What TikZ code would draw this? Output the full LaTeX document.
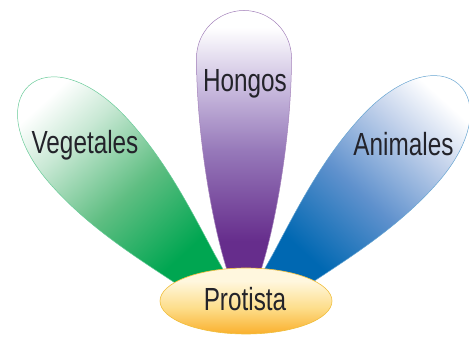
\documentclass[tikz,border=0pt]{standalone}
\usepackage{fontspec}
\setmainfont{Liberation Sans}
\definecolor{vgreen}{RGB}{0,166,81}
\definecolor{vgmid}{RGB}{95,190,130}
\definecolor{vglight}{RGB}{200,232,212}
\definecolor{hpurple}{RGB}{102,45,140}
\definecolor{hpmid}{RGB}{150,120,185}
\definecolor{hplight}{RGB}{205,192,225}
\definecolor{ablue}{RGB}{0,104,178}
\definecolor{abmid}{RGB}{95,145,205}
\definecolor{ablight}{RGB}{195,210,235}
\definecolor{porange}{RGB}{250,176,45}
\definecolor{pmid}{RGB}{253,222,140}
\definecolor{plight}{RGB}{255,247,222}
\definecolor{pedge}{RGB}{240,190,60}
\definecolor{txtgray}{RGB}{35,35,42}
\pgfdeclareverticalshading{hongosshade}{100bp}{color(0bp)=(hpurple); color(25bp)=(hpurple); color(34bp)=(hpurple); color(50bp)=(hpmid); color(62bp)=(hplight); color(72bp)=(white); color(100bp)=(white)}
\pgfdeclareverticalshading{vegshade}{100bp}{color(0bp)=(vgreen); color(25bp)=(vgreen); color(33bp)=(vgreen); color(48bp)=(vgmid); color(62bp)=(vglight); color(71bp)=(white); color(100bp)=(white)}
\pgfdeclareverticalshading{anishade}{100bp}{color(0bp)=(ablue); color(25bp)=(ablue); color(33bp)=(ablue); color(48bp)=(abmid); color(62bp)=(ablight); color(71bp)=(white); color(100bp)=(white)}
\pgfdeclareverticalshading{proshade}{100bp}{color(0bp)=(porange); color(25bp)=(porange); color(45bp)=(pmid); color(65bp)=(plight); color(100bp)=(plight)}
\tikzset{
  lbl/.style={font=\fontsize{32}{36}\selectfont, text=txtgray, inner sep=0pt, anchor=base, xscale=0.76},
  petaledge/.style={line width=0.5pt}
}
\begin{document}
\begin{tikzpicture}[x=1pt,y=1pt]
\useasboundingbox (0,0) rectangle (469,337);
% Vegetales petal
\begin{scope}[transform canvas={shift={(198,66)},rotate=42.4,yscale=0.965,xscale=0.97}]
\shadedraw[shading=vegshade, draw=vgreen!60, petaledge]
  (-19,-22) -- (-24,0) .. controls (-38,55) and (-53,110) .. (-52,170)
  .. controls (-51,225) and (-28,260) .. (0,260)
  .. controls (28,260) and (51,225) .. (52,170)
  .. controls (53,110) and (38,55) .. (24,0) -- (19,-22) -- cycle;
\end{scope}
% Animales petal
\begin{scope}[transform canvas={shift={(290,67)},rotate=-42.3,yscale=0.965,xscale=0.97}]
\shadedraw[shading=anishade, draw=ablue!60, petaledge]
  (-19,-22) -- (-24,0) .. controls (-38,55) and (-53,110) .. (-52,170)
  .. controls (-51,225) and (-28,260) .. (0,260)
  .. controls (28,260) and (51,225) .. (52,170)
  .. controls (53,110) and (38,55) .. (24,0) -- (19,-22) -- cycle;
\end{scope}
% Hongos petal
\begin{scope}[transform canvas={shift={(244,67)}}]
\shadedraw[shading=hongosshade, draw=hpurple!60, petaledge]
  (-10,-22) -- (-17,0) .. controls (-33,50) and (-47.5,140) .. (-47.5,212)
  arc[start angle=180, end angle=0, radius=47.5]
  .. controls (47.5,140) and (33,50) .. (17,0) -- (10,-22) -- cycle;
\end{scope}
% Protista ellipse
\shadedraw[shading=proshade, draw=pedge, line width=0.6pt] (246,36) ellipse [x radius=86, y radius=33];
% labels
\node[lbl] (veg) at (85,183) {Vegetales};
\node[lbl] (hon) at (245,245.5) {Hongos};
\node[lbl] (ani) at (403.5,181) {Animales};
\node[lbl] (pro) at (245,26.5) {Protista};
\end{tikzpicture}
\end{document}
